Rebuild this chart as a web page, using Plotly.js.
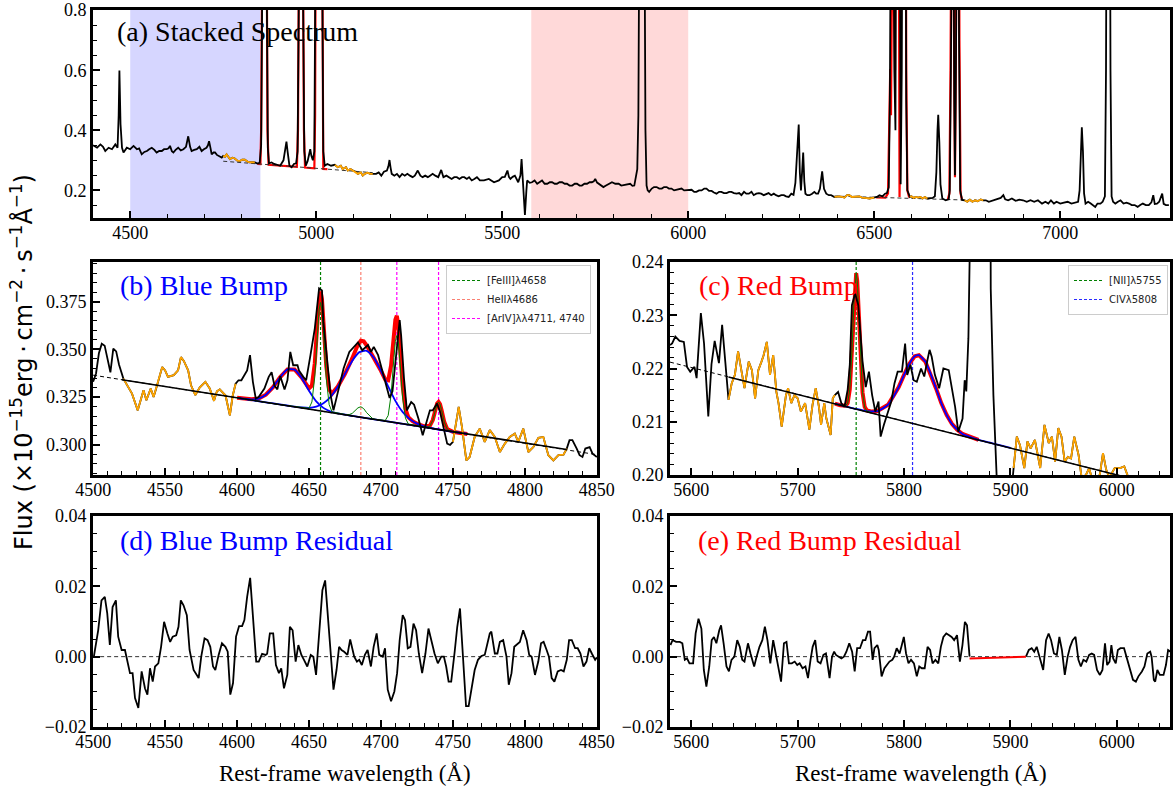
<!DOCTYPE html>
<html>
<head>
<meta charset="utf-8">
<script src="https://cdn.plot.ly/plotly-3.0.1.min.js"></script>
<style>
  html, body { margin: 0; padding: 0; background: #fff; }
  #chart { width: 1173px; height: 789px; }
</style>
</head>
<body>
<div id="chart"></div>
<script>
// ---------------- (a) stacked spectrum: [wavelength (Å), flux] ----------------
const specA = [
  [4400,0.350],[4411,0.342],[4420,0.353],[4427,0.345],[4433,0.331],[4442,0.342],[4451,0.337],[4460,0.353],[4466,0.342],[4469,0.45],[4471,0.599],[4474,0.42],[4478,0.342],[4482,0.326],[4491,0.342],[4500,0.337],[4509,0.348],[4518,0.337],[4524,0.340],[4531,0.320],[4538,0.328],[4545,0.331],[4551,0.337],[4558,0.342],[4565,0.335],[4571,0.326],[4578,0.331],[4585,0.331],[4591,0.337],[4598,0.337],[4603,0.340],[4607,0.348],[4612,0.330],[4616,0.326],[4622,0.335],[4629,0.342],[4636,0.333],[4643,0.337],[4650,0.345],[4656,0.380],[4661,0.345],[4665,0.331],[4672,0.335],[4679,0.337],[4686,0.345],[4692,0.331],[4698,0.337],[4705,0.342],[4709,0.350],[4712,0.364],[4716,0.340],[4719,0.320],[4724,0.326],[4728,0.326],[4733,0.318],[4737,0.315],[4742,0.312],[4746,0.309],
  [4750,0.315],[4755,0.312],[4759,0.320],[4764,0.311],[4768,0.304],[4775,0.309],[4781,0.306],[4788,0.299],[4795,0.298],[4801,0.302],[4808,0.302],[4815,0.296],[4821,0.293],[4828,0.294],[4835,0.293],
  [4842,0.289],[4848,0.292],[4852,0.35],[4855,0.9],[4858,2.5],[4861,4.0],[4864,2.5],[4867,0.9],[4870,0.34],[4873,0.290],[4880,0.293],[4887,0.288],[4895,0.286],[4903,0.282],[4912,0.300],[4917,0.345],[4920,0.362],[4923,0.330],[4928,0.282],[4934,0.277],[4940,0.288],[4946,0.290],[4950,0.33],[4953,0.8],[4956,2.5],[4959,5.0],[4962,2.5],[4965,0.8],[4968,0.33],[4972,0.282],[4977,0.298],[4981,0.320],[4984,0.337],[4987,0.315],[4991,0.300],[4995,0.33],[4998,1.0],[5001,4.0],[5004,10],[5007,14],[5010,10],[5013,4.0],[5016,1.0],[5019,0.33],[5023,0.282],[5030,0.288],[5040,0.282],
  [5050,0.285],[5058,0.277],[5066,0.282],[5071,0.271],[5080,0.277],[5085,0.266],[5092,0.271],[5099,0.266],[5106,0.262],[5112,0.255],[5120,0.260],[5125,0.249],[5130,0.255],[5138,0.259],[5145,0.255],[5152,0.255],
  [5161,0.255],[5168,0.260],[5175,0.249],[5182,0.262],[5190,0.266],[5194,0.280],[5197,0.301],[5200,0.275],[5203,0.255],[5210,0.249],[5217,0.255],[5224,0.244],[5231,0.255],[5238,0.249],[5245,0.255],[5252,0.249],[5259,0.244],[5265,0.249],[5273,0.266],[5280,0.249],[5286,0.244],[5293,0.249],[5300,0.244],[5306,0.249],[5313,0.255],[5320,0.249],[5328,0.244],[5336,0.268],[5342,0.244],[5350,0.249],[5357,0.244],[5364,0.238],[5371,0.244],[5378,0.244],[5385,0.238],[5392,0.244],[5398,0.244],[5405,0.238],[5411,0.244],[5418,0.233],[5425,0.238],[5432,0.244],[5440,0.233],[5451,0.233],[5464,0.238],[5478,0.227],[5491,0.233],[5500,0.244],[5507,0.245],[5514,0.266],[5518,0.245],[5522,0.238],[5528,0.245],[5534,0.249],[5543,0.227],[5549,0.250],[5552,0.304],[5556,0.233],[5561,0.118],[5565,0.200],[5567,0.233],[5574,0.225],[5580,0.227],[5587,0.233],[5594,0.222],[5600,0.227],[5607,0.233],[5614,0.222],[5621,0.222],[5628,0.227],[5634,0.227],[5641,0.222],[5647,0.222],[5654,0.227],[5661,0.227],[5668,0.222],[5674,0.222],[5681,0.216],[5688,0.216],[5695,0.222],[5701,0.222],[5708,0.216],[5714,0.216],[5721,0.222],[5728,0.222],[5735,0.227],[5741,0.227],[5746,0.230],[5750,0.238],[5755,0.226],[5759,0.222],[5765,0.215],[5772,0.211],[5779,0.216],[5786,0.222],[5795,0.227],[5804,0.222],[5813,0.222],[5820,0.216],[5830,0.219],[5837,0.222],[5844,0.222],[5850,0.215],[5855,0.216],[5860,0.250],[5863,0.271],[5866,0.45],[5869,1.2],[5873,3.0],[5876,3.5],[5879,3.0],[5882,1.2],[5885,0.40],[5888,0.216],[5891,0.200],[5895,0.195],[5902,0.206],[5908,0.211],[5915,0.211],[5922,0.206],[5929,0.206],[5935,0.211],[5942,0.211],[5948,0.206],[5955,0.206],[5962,0.200],[5969,0.202],[5975,0.206],[5982,0.206],[5989,0.200],[5996,0.200],[6003,0.202],[6009,0.202],[6016,0.195],[6022,0.195],[6029,0.200],[6036,0.200],[6043,0.206],[6049,0.206],[6056,0.198],[6063,0.198],[6069,0.193],[6076,0.189],[6083,0.195],[6089,0.195],[6096,0.191],[6103,0.191],[6110,0.195],[6116,0.195],[6123,0.191],[6130,0.189],[6137,0.191],[6143,0.184],[6150,0.195],[6156,0.189],[6163,0.189],[6170,0.195],[6176,0.184],[6183,0.189],[6190,0.191],[6196,0.189],[6203,0.184],[6210,0.189],[6216,0.191],[6223,0.184],[6230,0.189],[6236,0.184],[6243,0.180],[6250,0.184],[6257,0.184],[6263,0.180],[6270,0.178],[6277,0.189],[6283,0.185],[6288,0.225],[6292,0.330],[6297,0.419],[6300,0.260],[6303,0.200],[6306,0.260],[6309,0.326],[6312,0.230],[6315,0.189],[6320,0.184],[6326,0.184],[6333,0.189],[6339,0.195],[6344,0.189],[6349,0.189],[6354,0.205],[6360,0.263],[6365,0.205],[6371,0.189],[6378,0.184],[6384,0.184],
  [6393,0.178],[6400,0.180],[6406,0.180],[6413,0.178],[6420,0.176],[6427,0.184],[6433,0.184],[6440,0.178],[6447,0.178],[6453,0.180],[6460,0.180],[6467,0.176],[6473,0.176],[6480,0.174],[6487,0.173],[6494,0.175],[6500,0.176],
  [6507,0.178],[6514,0.184],[6522,0.180],[6529,0.189],[6534,0.191],[6539,0.21],[6542,0.5],[6546,1.5],[6550,1.8],[6554,0.6],[6557,0.4],[6560,1.5],[6563,3.5],[6566,2.0],[6569,0.3],[6571,0.22],[6574,0.6],[6577,2.0],[6580,3.0],[6583,2.0],[6586,0.5],[6589,0.2],
  [6596,0.178],[6600,0.180],[6606,0.175],[6612,0.178],[6618,0.176],[6624,0.178],[6630,0.173],[6636,0.178],[6643,0.173],
  [6650,0.173],[6657,0.175],[6663,0.180],[6667,0.26],[6670,0.40],[6672,0.452],[6675,0.36],[6678,0.22],[6683,0.173],[6692,0.167],[6700,0.170],[6703,0.20],[6706,0.6],[6709,1.6],[6712,1.6],[6715,0.5],[6717,0.25],[6719,0.5],[6722,1.5],[6725,1.7],[6728,0.7],[6731,0.2],[6736,0.168],
  [6743,0.167],[6750,0.162],[6757,0.169],[6764,0.162],[6771,0.167],[6778,0.164],[6786,0.170],[6793,0.167],
  [6800,0.167],[6808,0.162],[6820,0.167],[6830,0.169],[6840,0.175],[6847,0.184],[6852,0.170],[6860,0.167],[6870,0.173],[6880,0.165],[6890,0.169],[6900,0.167],[6910,0.162],[6920,0.167],[6930,0.162],[6940,0.167],[6951,0.156],[6960,0.162],[6968,0.156],[6975,0.167],[6983,0.156],[6990,0.162],[7000,0.156],[7010,0.159],[7020,0.162],[7030,0.156],[7040,0.159],[7048,0.162],[7052,0.20],[7056,0.38],[7058,0.41],[7061,0.33],[7064,0.19],[7068,0.156],[7075,0.162],[7082,0.156],[7088,0.150],[7094,0.145],[7100,0.156],[7108,0.156],[7114,0.162],[7120,0.18],[7123,0.6],[7126,2.0],[7129,3.0],[7132,2.0],[7135,0.6],[7138,0.18],[7142,0.162],[7148,0.156],[7155,0.162],[7162,0.167],[7170,0.156],[7178,0.159],[7185,0.156],[7192,0.151],[7200,0.151],[7208,0.145],[7215,0.151],[7222,0.156],[7230,0.151],[7238,0.151],[7245,0.160],[7250,0.184],[7254,0.155],[7260,0.156],[7266,0.162],[7270,0.175],[7274,0.189],[7278,0.155],[7284,0.151],[7292,0.151]
];
// emission-line fits in (a)
const fitA_HbOIII = [[4842,0.2883],[4850,0.2875],[4852,0.40],[4855,1.0],[4858,2.6],[4861,4.2],[4864,2.6],[4867,1.0],[4869,0.40],[4872,0.2852],[4880,0.2847],[4940,0.2790],[4948,0.2782],[4951,0.40],[4953,0.85],[4956,2.6],[4959,5.2],[4962,2.6],[4965,0.85],[4967,0.40],[4970,0.2761],[4995,0.2737],[4997,0.45],[5000,1.6],[5003,6],[5007,14.5],[5011,6],[5014,1.6],[5017,0.45],[5019,0.2714],[5030,0.2704]];
const fitA_HaNII = [[6505,0.177],[6530,0.176],[6537,0.19],[6540,0.35],[6543,0.604],[6545,0.45],[6547,0.8],[6550,2.0],[6553,0.8],[6556,0.6],[6559,2.0],[6563,3.8],[6566,1.2],[6568,0.178],[6571,0.5],[6574,1.2],[6577,2.5],[6580,3.2],[6583,2.2],[6586,0.6],[6589,0.2],[6594,0.176]];
const fitA_SII = [[6698,0.170],[6702,0.19],[6705,0.6],[6708,1.6],[6711,2.0],[6714,0.8],[6717,0.244],[6720,0.8],[6723,1.8],[6726,1.8],[6729,0.7],[6732,0.19],[6736,0.168]];
const contA_blue = [[4750,0.297],[5152,0.259]];
const contA_red = [[6393,0.181],[6793,0.166]];
const windowsA = [[4749,4836],[5049,5153],[6392,6501],[6595,6644],[6742,6794]];
const spanBlueBump = [4500, 4850];
const spanRedBump = [5578, 6000];

// ---------------- (b) blue bump ----------------
const specB = [
  [4500,0.333],[4502,0.3374],[4504,0.348],[4506,0.353],[4508,0.352],[4510,0.345],[4512,0.338],[4514,0.3505],[4516,0.349],[4518,0.342],[4520,0.3365],[4521,0.3347],[4527,0.3268],[4531,0.318],[4535,0.3286],[4537,0.3233],[4540,0.3295],[4542,0.325],[4544,0.330],[4548,0.3408],[4550,0.339],[4552,0.3356],[4556,0.3365],[4559,0.339],[4561,0.346],[4563,0.344],[4566,0.339],[4568,0.3312],[4571,0.326],[4574,0.330],[4578,0.333],[4581,0.3295],[4584,0.323],[4586,0.328],[4588,0.329],[4592,0.3258],[4595,0.3154],[4597,0.3258],[4599,0.332],[4601,0.3338],[4603,0.3338],[4607,0.339],[4609,0.347],[4611,0.333],[4613,0.3242],[4615,0.325],[4619,0.3295],[4622,0.3356],[4624,0.338],[4626,0.331],[4628,0.329],[4630,0.336],[4633,0.329],[4635,0.3338],[4637,0.3487],[4639,0.3417],[4642,0.3417],[4643,0.339],[4646,0.3356],[4648,0.3338],[4651,0.347],[4654,0.361],[4657,0.3821],[4659,0.381],[4660,0.3645],[4663,0.340],[4665,0.326],[4667,0.318],[4671,0.3303],[4674,0.340],[4678,0.3487],[4681,0.3514],[4684,0.3537],[4687,0.3496],[4691,0.3523],[4693,0.3487],[4695,0.3514],[4698,0.347],[4700,0.341],[4703,0.3335],[4706,0.3245],[4708,0.328],[4710.5,0.347],[4713,0.3654],[4714,0.3575],[4716,0.3347],[4718,0.318],[4721,0.3224],[4723,0.321],[4726,0.3137],[4729,0.3049],[4732,0.312],[4734,0.318],[4736,0.318],[4739,0.3216],[4741,0.3172],[4744,0.3066],[4746,0.3005],[4748,0.2998],[4750,0.3014],[4754,0.3198],[4756.3,0.309],[4759.3,0.2917],[4761.6,0.2935],[4765.1,0.304],[4768.6,0.3084],[4772.1,0.3014],[4775.6,0.3076],[4779.1,0.304],[4782.6,0.2961],[4786.1,0.3005],[4789.5,0.304],[4793,0.3058],[4795.4,0.3014],[4798.9,0.3084],[4802.4,0.2961],[4805.9,0.2987],[4809.4,0.3035],[4812.8,0.304],[4816.3,0.2944],[4819.8,0.2917],[4823.3,0.2944],[4826.8,0.2947],[4829.1,0.2979],[4831,0.3023],[4833,0.3023],[4836,0.2979],[4838,0.2944],[4840,0.2935],[4842,0.2979],[4845,0.2987],[4847,0.2952],[4850,0.2935]
];
const windowsB = [[4520.5,4600],[4749,4830]];
const contB = [[4500,0.3365],[4850,0.2947]];
const contB_fit = [[4520,0.3341],[4829,0.2974]];
const fitB_total = [[4600,0.3246],[4605,0.3241],[4610,0.3238],[4615,0.3242],[4620,0.3262],[4625,0.3302],[4630,0.3355],[4635,0.3395],[4640,0.3395],[4645,0.3352],[4650,0.3295],[4652,0.3310],[4654,0.3428],[4656,0.3665],[4657,0.3767],[4658,0.3805],[4659,0.3764],[4660,0.3659],[4662,0.3412],[4664,0.3289],[4666,0.3268],[4670,0.3305],[4675,0.3372],[4680,0.3453],[4684,0.3526],[4686,0.3546],[4688,0.3543],[4690,0.3522],[4695,0.3459],[4700,0.3388],[4703,0.3342],[4705,0.3338],[4707,0.3415],[4709,0.3586],[4710,0.3657],[4711,0.3677],[4712,0.3632],[4713,0.3536],[4715,0.3313],[4717,0.3187],[4719,0.3144],[4722,0.3123],[4725,0.3110],[4730,0.3096],[4734,0.3099],[4736,0.3129],[4738,0.3190],[4739,0.3216],[4740,0.3224],[4741,0.3213],[4742,0.3185],[4744,0.3118],[4746,0.3082],[4750,0.3067],[4755,0.3061],[4760,0.3056]];
const fitB_broad1 = [[4600,0.3246],[4605,0.3241],[4610,0.3238],[4615,0.3242],[4620,0.3262],[4625,0.3302],[4630,0.3355],[4635,0.3395],[4640,0.3394],[4645,0.3349],[4650,0.3283],[4655,0.3227],[4660,0.3193],[4665,0.3174],[4670,0.3164],[4680,0.3151],[4700,0.3127],[4760,0.3056]];
const fitB_broad2 = [[4600,0.3246],[4620,0.3222],[4640,0.3199],[4645,0.3195],[4650,0.3193],[4655,0.3199],[4660,0.3217],[4665,0.3251],[4670,0.3304],[4675,0.3372],[4680,0.3440],[4685,0.3486],[4690,0.3493],[4695,0.3457],[4700,0.3388],[4705,0.3306],[4710,0.3230],[4715,0.3172],[4720,0.3134],[4725,0.3110],[4730,0.3096],[4735,0.3087],[4740,0.3079],[4750,0.3067],[4760,0.3056]];
const fitB_narrow = [[4600,0.3246],[4630,0.3210],[4650,0.3191],[4652,0.3224],[4654,0.3356],[4656,0.3603],[4657,0.3708],[4658,0.3747],[4659,0.3706],[4660,0.3599],[4662,0.3346],[4664,0.3210],[4666,0.3172],[4676,0.3157],[4678,0.3158],[4680,0.3164],[4682,0.3178],[4684,0.3193],[4686,0.3199],[4688,0.3189],[4690,0.3168],[4692,0.3150],[4694,0.3138],[4696,0.3133],[4703,0.3127],[4705,0.3153],[4707,0.3260],[4709,0.3458],[4710,0.3542],[4711,0.3574],[4712,0.3540],[4713,0.3454],[4715,0.3250],[4717,0.3139],[4719,0.3108],[4732,0.3090],[4734,0.3097],[4736,0.3128],[4738,0.3190],[4739,0.3216],[4740,0.3224],[4741,0.3213],[4742,0.3185],[4744,0.3118],[4746,0.3082],[4748,0.3071],[4760,0.3056]];
const linesB_wl = [4658, 4686, 4711, 4740];
const linesB_name = ['[FeIII]λ4658', 'HeIIλ4686', '[ArIV]λλ4711, 4740', '[ArIV]λ4740'];

// ---------------- (c) red bump ----------------
const specC = [
  [5580,0.2244],[5582,0.2247],[5585,0.226],[5589,0.2252],[5593,0.225],[5596,0.2203],[5599,0.2194],[5603,0.2203],[5605,0.2182],[5609,0.2304],[5612,0.2247],[5616,0.211],[5619,0.2208],[5622,0.2252],[5626,0.221],[5629,0.2282],[5632,0.2212],[5635,0.2141],[5638,0.2172],[5641,0.2188],[5644,0.2232],[5647,0.2197],[5650,0.2163],[5654,0.2213],[5657,0.2197],[5660,0.2144],[5663,0.2197],[5666,0.2213],[5668,0.2225],[5671,0.225],[5674,0.2188],[5677,0.2225],[5680,0.2156],[5682,0.2135],[5685,0.2091],[5689,0.215],[5691,0.2163],[5694,0.2135],[5697,0.215],[5700,0.2144],[5703,0.2119],[5707,0.2135],[5709,0.2106],[5711,0.2085],[5714,0.2132],[5717,0.2163],[5720,0.2128],[5722,0.2094],[5725,0.2135],[5727,0.2106],[5731,0.2075],[5733,0.2144],[5735,0.215],[5738,0.2156],[5741,0.2135],[5744,0.2128],[5747,0.216],[5749,0.2207],[5751,0.2319],[5754,0.2341],[5757,0.2319],[5759,0.226],[5761,0.2213],[5764,0.2165],[5767,0.2194],[5770,0.215],[5773,0.2119],[5776,0.2138],[5778,0.2072],[5781,0.2094],[5784,0.2113],[5788,0.2138],[5791,0.2172],[5794,0.2194],[5798,0.2194],[5801,0.2247],[5803,0.2188],[5806,0.2207],[5809,0.2178],[5812,0.2175],[5816,0.22],[5819,0.2185],[5822,0.2216],[5824,0.2235],[5826,0.2222],[5829,0.2188],[5833,0.2163],[5837,0.22],[5842,0.2197],[5845,0.2166],[5848,0.2128],[5851,0.2081],[5855,0.2106],[5857,0.2178],[5858.5,0.2157],[5859.5,0.2207],[5860.5,0.2257],[5862,0.245],[5866,0.45],[5870,0.8],[5874,1.0],[5877,0.9],[5880,0.35],[5881.5,0.235],[5884,0.215],[5887,0.2],[5890,0.192],[5895,0.19],[5900,0.195],[5903,0.2013],[5906,0.2072],[5909,0.2056],[5913,0.2013],[5916,0.2063],[5919,0.205],[5923,0.2066],[5926,0.2031],[5928,0.2013],[5932,0.2094],[5936,0.206],[5939,0.2072],[5942,0.2025],[5945,0.2088],[5948,0.2072],[5951,0.2025],[5954,0.2034],[5957,0.2031],[5960,0.2072],[5964,0.2038],[5967,0.1994],[5971,0.2],[5974,0.2013],[5977,0.199],[5984,0.2],[5987,0.2041],[5990,0.201],[5993,0.1995],[5998,0.2013],[6003,0.2013],[6007,0.2016],[6010,0.2],[6015,0.197],[6030,0.196],[6050,0.195]
];
const windowsC = [[5634.5,5735.5],[5902,6011]];
const contC = [[5580,0.2212],[6050,0.1975]];
const contC_fit = [[5635,0.2184],[6010,0.1995]];
const fitC_total = [[5735,0.2134],[5740,0.2131],[5745,0.2130],[5747,0.2135],[5749,0.2161],[5751,0.2231],[5753,0.2329],[5754,0.2366],[5755,0.2379],[5756,0.2365],[5757,0.2327],[5759,0.2227],[5761,0.2155],[5763,0.2128],[5765,0.2121],[5770,0.2119],[5775,0.2120],[5785,0.2132],[5795,0.2165],[5800,0.2188],[5805,0.2209],[5810,0.2223],[5814,0.2225],[5820,0.2213],[5825,0.2190],[5830,0.2163],[5835,0.2135],[5840,0.2113],[5845,0.2096],[5850,0.2085],[5855,0.2077],[5860,0.2073],[5870,0.2066]];
const fitC_broad = [[5735,0.2134],[5745,0.2129],[5755,0.2124],[5765,0.2120],[5775,0.2120],[5785,0.2132],[5795,0.2165],[5800,0.2188],[5805,0.2209],[5810,0.2223],[5814,0.2225],[5820,0.2213],[5825,0.2190],[5830,0.2163],[5835,0.2135],[5840,0.2113],[5845,0.2096],[5850,0.2085],[5855,0.2077],[5860,0.2073],[5870,0.2066],[5880,0.2061],[5890,0.2056],[5900,0.2051]];
const fitC_narrow = [[5735,0.2134],[5740,0.2131],[5745,0.2130],[5747,0.2135],[5749,0.2161],[5751,0.2231],[5753,0.2329],[5754,0.2366],[5755,0.2379],[5756,0.2365],[5757,0.2327],[5759,0.2227],[5761,0.2155],[5763,0.2127],[5765,0.2120],[5770,0.2117]];
const linesC_wl = [5755, 5808];
const linesC_name = ['[NII]λ5755', 'CIVλ5808'];

// ---------------- (d) blue bump residual ----------------
const resD = [
  [4500.5,0],[4503.5,0.0075],[4505.8,0.016],[4508.1,0.017],[4509.8,0.0123],[4511.6,0.0033],[4513.5,0.0141],[4515.8,0.016],[4517.4,0.0057],[4519.8,0.0019],[4522.1,0.0019],[4523.7,-0.0009],[4525.6,-0.0047],[4527.4,-0.0047],[4529.1,-0.0118],[4531.4,-0.0146],[4533.7,-0.0042],[4536,-0.009],[4537.7,-0.0108],[4539.5,-0.0033],[4541.4,-0.0071],[4543,-0.0028],[4545.3,-0.0019],[4547.2,0.0028],[4549.3,0.0099],[4551.6,0.0066],[4553.5,0.0042],[4555.3,0.0057],[4557.7,0.0061],[4559.3,0.0085],[4560.9,0.016],[4562.8,0.0146],[4565.1,0.0118],[4567,0.0019],[4569.8,-0.0038],[4573.3,-0.0061],[4575.1,0],[4577.4,0.0052],[4579.5,0.0047],[4581.4,0.0028],[4583.3,-0.0028],[4584.9,-0.0038],[4587.2,0.0005],[4589.5,0.0038],[4591.9,0.0028],[4593.5,0.0014],[4595.3,-0.0108],[4597.2,-0.0075],[4599.3,0.0057],[4601.4,0.0087],[4603.5,0.0087],[4605.1,0.0104],[4607,0.017],[4609.1,0.0224],[4611.2,0.0104],[4613.3,-0.0014],[4615.1,-0.0014],[4617.4,0.0008],[4619.8,0.0005],[4620.9,0.0008],[4622.8,0.0066],[4625.1,0.0066],[4627,-0.0024],[4629.1,-0.0047],[4630.7,-0.0033],[4632.6,-0.009],[4634.9,-0.0052],[4636.7,0.0085],[4638.6,0.0075],[4640.7,-0.0014],[4642.6,0.0033],[4644.7,0.0005],[4646.5,-0.0009],[4648.8,-0.0028],[4651.2,0.0005],[4653,0],[4654.9,-0.0052],[4657,0.0061],[4659.3,0.0189],[4661.2,0.0217],[4662.8,0.0137],[4664.7,0.0038],[4667,-0.0094],[4669.1,-0.0038],[4670.9,0.0028],[4672.6,0.0019],[4674.4,0.0014],[4676.7,0.0005],[4678.6,0.0049],[4681.4,0],[4683.3,-0.0014],[4684.9,-0.0009],[4686.7,-0.0024],[4688.8,0.0005],[4690.7,0.0019],[4693,-0.0028],[4694.9,0.0028],[4697,0.0066],[4698.8,0.0005],[4701.2,0],[4702.8,0.0024],[4704.7,-0.0094],[4707,-0.0127],[4709.3,-0.0099],[4711.2,-0.0047],[4713,0.0047],[4715.1,0.0118],[4716.7,0.0104],[4718.6,0.0024],[4720.5,0.0028],[4722.6,0.0094],[4724.4,0.0075],[4726.3,0.0009],[4728.6,-0.0047],[4730.9,0.0009],[4733,0.008],[4734.9,0.0047],[4737.2,0.0009],[4739.5,-0.0019],[4741.9,0],[4743.7,0],[4745.3,-0.0028],[4747,-0.0071],[4748.8,-0.0071],[4751.2,0.0014],[4753,0.0085],[4754.9,0.0137],[4757,0],[4759.1,-0.0141],[4760.9,-0.0141],[4763.3,-0.0075],[4765.1,-0.0038],[4767.4,-0.0009],[4769.8,0.0002],[4772.1,0.0005],[4774,0.0038],[4775.6,0.0066],[4776.7,0.0071],[4779.1,0.0009],[4780.9,0.0009],[4782.6,0.0042],[4784.9,0.0047],[4787.2,0],[4788.8,-0.008],[4790.7,-0.0047],[4792.6,0.0028],[4794.9,0.0038],[4796.5,0.0042],[4798.8,0.0075],[4801.2,0.0047],[4803,0.0005],[4804.7,0],[4807,-0.0052],[4809.3,-0.0014],[4811.2,0.0038],[4813,0.0042],[4815.1,0.0019],[4816.7,0],[4818.6,-0.0061],[4820.5,-0.0071],[4822.8,-0.0042],[4825.1,-0.0038],[4827,-0.0042],[4829.1,-0.0009],[4830.7,0.0047],[4832.6,0.0047],[4834.9,0.0024],[4836.7,0.0024],[4838.6,0.0009],[4840.7,-0.0028],[4842.8,-0.0014],[4844.7,0.0024],[4846.5,0.0009],[4848.8,-0.0009],[4850,-0.0002]
];

// ---------------- (e) red bump residual ----------------
const resE = [
  [5580.4,0.0033],[5582.4,0.0047],[5585.8,0.0042],[5589.2,0.0042],[5591.6,0.0038],[5593.9,-0.0009],[5596,-0.0005],[5598.3,-0.0019],[5601.7,-0.0019],[5604.1,0.0066],[5606.8,0.0108],[5609.5,0.008],[5611.8,-0.0038],[5614.2,-0.0085],[5616.9,-0.0028],[5619.2,0.0047],[5621.3,0.0056],[5623.6,0.0038],[5626.3,0.0075],[5628,0.0089],[5630.4,0.0038],[5633.1,-0.0028],[5635.4,-0.0042],[5637.8,-0.0009],[5640.5,0],[5643.2,0.0047],[5645.6,0.0028],[5647.9,-0.0009],[5650,-0.0014],[5653.3,0.0038],[5655.7,0.0009],[5659.1,-0.0028],[5661.4,0],[5664.1,0.0028],[5666.8,0.0047],[5669.2,0.0085],[5671.6,0.0047],[5674.3,-0.0019],[5677,0.0047],[5679.3,0.0009],[5681.7,-0.0028],[5684.4,-0.0071],[5687.1,0.0038],[5689.5,0.0042],[5691.8,-0.0019],[5694.5,-0.0019],[5697.2,-0.0014],[5699.6,-0.0024],[5701.9,-0.0019],[5704.6,-0.0033],[5707.3,-0.0028],[5709.7,-0.0061],[5712.1,-0.0009],[5714.1,0.0028],[5716.5,0.0047],[5718.8,-0.0014],[5721.5,-0.0019],[5724.2,0.0005],[5726.6,0.0009],[5730,-0.0061],[5732.3,0],[5734.3,0.0014],[5736,0.0005],[5738.4,0],[5741.1,-0.0005],[5743.5,0],[5745.8,0.0014],[5748.5,0.0038],[5751.2,0.0014],[5753.6,-0.0042],[5755.9,0.0024],[5758.6,0.0024],[5761.3,0.0047],[5763.7,0.0047],[5766.1,0.0071],[5768.1,0.0071],[5770.5,-0.0009],[5772.2,0.0024],[5774.9,0.0033],[5776.2,0.0019],[5778.9,-0.0056],[5781.6,-0.0033],[5784,-0.0024],[5786.3,-0.0014],[5789,-0.0009],[5790.7,0],[5793.1,0.0024],[5795.8,0.0009],[5797.5,0.0028],[5799.8,0.0056],[5801.9,0.0009],[5804.2,-0.0019],[5806.6,-0.0009],[5809.3,-0.0019],[5812,-0.0056],[5814.3,-0.0028],[5816.7,-0.0033],[5819.4,-0.0033],[5822.1,0.0028],[5824.5,0.0019],[5826.8,-0.0019],[5829.5,-0.0009],[5832.2,-0.0019],[5834.6,0.0028],[5837,0.0056],[5839.7,0.0066],[5842.4,0.0061],[5844.7,0.0056],[5847.1,0.0047],[5849.8,0.0061],[5852.5,-0.0014],[5854.9,0.0033],[5857.2,0.0099],[5859.2,0.0089],[5861.6,0],
  [null,null],
  [5914.6,0],[5917.3,0.0019],[5920,0.0024],[5922.4,0.0014],[5924.7,0.0028],[5927.4,0],[5930.8,-0.0038],[5933.5,0.0047],[5935.9,0.0066],[5938.2,0.0047],[5940.9,0.0009],[5943.6,0.0005],[5946,0.0056],[5948.4,0.0019],[5951.1,-0.0052],[5953.8,0],[5956.1,0.0028],[5958.5,0.0047],[5961.2,0.0056],[5963.9,-0.0009],[5966.2,-0.0028],[5968.6,-0.0009],[5971.3,-0.0014],[5974,0.0005],[5976.4,0.0009],[5978.7,0.0005],[5981.4,-0.0038],[5984.1,-0.0052],[5986.5,-0.0038],[5988.9,0.0038],[5990.9,-0.0024],[5993.2,-0.0014],[5994.9,0.0033],[5996.6,-0.0005],[5999,-0.0019],[6001,0.0019],[6003.4,0.0024],[6006.8,0.0024],[6009.1,0],[6011.8,-0.0028],[6015.2,-0.0066],[6017.9,-0.0071],[6020.3,-0.0056],[6023.6,-0.0042],[6026,-0.0028],[6028.7,0.0009],[6031.4,0.0014],[6032.7,0],[6034.8,-0.0066],[6036.1,-0.0071],[6038.1,-0.0038],[6040.5,-0.0052],[6043.9,-0.0052],[6046.2,-0.0024],[6048.2,0.0019],[6050.6,0.0014]
];
const resE_masked = [[5861.6,-0.0005],[5914.6,0]];
const zeroD = [[4500,0],[4850,0]];
const zeroE = [[5580,0],[6050,0]];

// ---------------- axis ranges ----------------
const rangeAx = [4400, 7295], rangeAy = [0.108, 0.8005];
const rangeBx = [4499.9, 4850.1], rangeBy = [0.284, 0.396];
const rangeCx = [5580, 6050], rangeCy = [0.19999, 0.24001];
const rangeRy = [-0.02001, 0.04001];

// ---------------- helpers ----------------
const xs = p => p.map(v => v[0]);
const ys = p => p.map(v => v[1]);
function pick(pairs, wins) {
  const out = [];
  wins.forEach((w, i) => {
    if (i) out.push([null, null]);
    pairs.forEach(p => { if (p[0] !== null && p[0] >= w[0] && p[0] <= w[1]) out.push(p); });
  });
  return out;
}
function tr(pairs, ax, color, width, extra) {
  return Object.assign({
    type: 'scatter', mode: 'lines', x: xs(pairs), y: ys(pairs),
    xaxis: 'x' + ax, yaxis: 'y' + ax,
    line: { color: color, width: width },
    showlegend: false, hoverinfo: 'skip'
  }, extra || {});
}
function vline(wl, yr, ax, color, name, legendId) {
  return {
    type: 'scatter', mode: 'lines', x: [wl, wl], y: yr,
    xaxis: 'x' + ax, yaxis: 'y' + ax,
    line: { color: color, width: 1.2, dash: '3px,2px' },
    name: name, showlegend: !!legendId, legend: legendId || 'legend', hoverinfo: 'skip'
  };
}

const ORANGE = '#FFA500';
const traces = [];

// (a)
traces.push(tr(fitA_HbOIII, '', 'red', 2.2));
traces.push(tr(fitA_HaNII, '', 'red', 2.2));
traces.push(tr(fitA_SII, '', 'red', 2.2));
traces.push(tr(contA_blue, '', '#333', 1, { line: { color: '#333', width: 1, dash: '4px,3px' } }));
traces.push(tr(contA_red, '', '#333', 1, { line: { color: '#333', width: 1, dash: '4px,3px' } }));
traces.push(tr(specA, '', 'black', 1.8));
traces.push(tr(pick(specA, windowsA), '', ORANGE, 1.8));

// (b)
const linesB_col = ['green', 'salmon', 'magenta', 'magenta'];
linesB_wl.forEach((wl, i) => traces.push(vline(wl, rangeBy, '2', linesB_col[i], linesB_name[i], i < 3 ? 'legend' : null)));
traces.push(tr(fitB_total, '2', 'red', 4));
traces.push(tr(fitB_broad1, '2', 'blue', 1.8, { line: { color: 'blue', width: 1.8, shape: 'spline', smoothing: 0.6 } }));
traces.push(tr(fitB_broad2, '2', 'blue', 1.8, { line: { color: 'blue', width: 1.8, shape: 'spline', smoothing: 0.6 } }));
traces.push(tr(fitB_narrow, '2', 'green', 1));
traces.push(tr(specB, '2', 'black', 1.8));
traces.push(tr(pick(specB, windowsB), '2', ORANGE, 1.8));
traces.push(tr(contB, '2', 'black', 1, { line: { color: 'black', width: 1, dash: '4px,3px' } }));
traces.push(tr(contB_fit, '2', 'black', 1.5));

// (c)
const linesC_col = ['green', '#2b2bff'];
linesC_wl.forEach((wl, i) => traces.push(vline(wl, rangeCy, '3', linesC_col[i], linesC_name[i], 'legend2')));
traces.push(tr(fitC_total, '3', 'red', 4));
traces.push(tr(fitC_broad, '3', 'blue', 1.8, { line: { color: 'blue', width: 1.8, shape: 'spline', smoothing: 0.6 } }));
traces.push(tr(fitC_narrow, '3', 'green', 1));
traces.push(tr(specC, '3', 'black', 1.8));
traces.push(tr(pick(specC, windowsC), '3', ORANGE, 1.8));
traces.push(tr(contC, '3', 'black', 1, { line: { color: 'black', width: 1, dash: '4px,3px' } }));
traces.push(tr(contC_fit, '3', 'black', 1.5));

// (d)
traces.push(tr(zeroD, '4', '#333', 1, { line: { color: '#333', width: 1, dash: '4px,3px' } }));
traces.push(tr(resD, '4', 'black', 1.8));

// (e)
traces.push(tr(zeroE, '5', '#333', 1, { line: { color: '#333', width: 1, dash: '4px,3px' } }));
traces.push(tr(resE, '5', 'black', 1.8));
traces.push(tr(resE_masked, '5', 'red', 2));

// ---------------- layout ----------------
const W = 1173, H = 789;
const PX = x => x / W, PY = y => 1 - y / H;
const SERIF = 'Liberation Serif, Times New Roman, serif';
const baseAx = {
  showline: true, linecolor: 'black', linewidth: 3, mirror: true,
  ticks: 'inside', ticklen: 7, tickwidth: 1.5, tickcolor: 'black',
  showgrid: false, zeroline: false, ticklabeloverflow: 'allow',
  tickfont: { family: SERIF, size: 18, color: 'black' }
};
function ax(o, minorDtick, minorTick0) {
  return Object.assign({}, baseAx, o, {
    minor: { ticks: 'inside', ticklen: 4, tickwidth: 1, tickcolor: 'black', dtick: minorDtick, tick0: minorTick0, showgrid: false }
  });
}
const dxL = [PX(93), PX(597)], dxR = [PX(670), PX(1170)], dxA = [PX(93), PX(1170)];
const dyA = [PY(218), PY(10)], dyM = [PY(475), PY(262)], dyB = [PY(727), PY(516)];
const XS = -4; // pull x tick labels a little closer to the frame

function label(text, x, y, color, extra) {
  return Object.assign({
    text: text, x: x, y: y, xref: 'paper', yref: 'paper', xanchor: 'left', yanchor: 'middle',
    showarrow: false, font: { family: SERIF, size: 28, color: color }
  }, extra || {});
}

const layout = {
  width: W, height: H,
  margin: { l: 0, r: 0, t: 0, b: 0 },
  paper_bgcolor: 'white', plot_bgcolor: 'white',
  xaxis:  ax({ domain: dxA, range: rangeAx, anchor: 'y',  tick0: 4500, dtick: 500, tickformat: 'd', ticklabelstandoff: XS }, 100, 4500),
  yaxis:  ax({ domain: dyA, range: rangeAy, anchor: 'x',  tick0: 0, dtick: 0.2, tickformat: '.1f' }, 0.05, 0),
  xaxis2: ax({ domain: dxL, range: rangeBx, anchor: 'y2', tick0: 4500, dtick: 50, tickformat: 'd', ticklabelstandoff: XS }, 10, 4500),
  yaxis2: ax({ domain: dyM, range: rangeBy, anchor: 'x2', tick0: 0.3, dtick: 0.025, tickformat: '.3f' }, 0.005, 0.3),
  xaxis3: ax({ domain: dxR, range: rangeCx, anchor: 'y3', tick0: 5600, dtick: 100, tickformat: 'd', ticklabelstandoff: XS }, 20, 5600),
  yaxis3: ax({ domain: dyM, range: rangeCy, anchor: 'x3', tick0: 0.2, dtick: 0.01, tickformat: '.2f' }, 0.002, 0.2),
  xaxis4: ax({ domain: dxL, range: rangeBx, anchor: 'y4', tick0: 4500, dtick: 50, tickformat: 'd', ticklabelstandoff: XS }, 10, 4500),
  yaxis4: ax({ domain: dyB, range: rangeRy, anchor: 'x4', tick0: 0, dtick: 0.02, tickformat: '.2f' }, 0.005, 0),
  xaxis5: ax({ domain: dxR, range: rangeCx, anchor: 'y5', tick0: 5600, dtick: 100, tickformat: 'd', ticklabelstandoff: XS }, 20, 5600),
  yaxis5: ax({ domain: dyB, range: rangeRy, anchor: 'x5', tick0: 0, dtick: 0.02, tickformat: '.2f' }, 0.005, 0),
  shapes: [
    { type: 'rect', xref: 'x', yref: 'y domain', x0: spanBlueBump[0], x1: spanBlueBump[1], y0: 0, y1: 1,
      fillcolor: 'rgba(0,0,255,0.16)', line: { width: 0 }, layer: 'below' },
    { type: 'rect', xref: 'x', yref: 'y domain', x0: spanRedBump[0], x1: spanRedBump[1], y0: 0, y1: 1,
      fillcolor: 'rgba(255,0,0,0.15)', line: { width: 0 }, layer: 'below' }
  ],
  legend: {
    x: PX(591), xanchor: 'right', y: PY(265), yanchor: 'top',
    bgcolor: 'rgba(255,255,255,0.85)', bordercolor: '#cccccc', borderwidth: 1,
    font: { family: 'DejaVu Sans', size: 10, color: '#222' }, tracegroupgap: 0, itemwidth: 30
  },
  legend2: {
    x: PX(1168), xanchor: 'right', y: PY(265), yanchor: 'top',
    bgcolor: 'rgba(255,255,255,0.85)', bordercolor: '#cccccc', borderwidth: 1,
    font: { family: 'DejaVu Sans', size: 10, color: '#222' }, tracegroupgap: 0, itemwidth: 30
  },
  annotations: [
    label('(a) Stacked Spectrum', PX(115), PY(32), 'black'),
    label('(b) Blue Bump', PX(118), PY(285), 'blue'),
    label('(c) Red Bump', PX(697), PY(285), 'red'),
    label('(d) Blue Bump Residual', PX(118), PY(540), 'blue'),
    label('(e) Red Bump Residual', PX(696), PY(540), 'red'),
    label('Flux (×10<sup>−15</sup>erg\u2009·\u2009cm<sup>−2</sup>\u2009·\u2009s<sup>−1</sup>Å<sup>−1</sup>)', PX(22), PY(362), 'black',
      { xanchor: 'center', textangle: -90, font: { family: 'DejaVu Sans', size: 24, color: 'black' } }),
    label('Rest-frame wavelength (Å)', PX(345), PY(773), 'black',
      { xanchor: 'center', font: { family: SERIF, size: 23, color: 'black' } }),
    label('Rest-frame wavelength (Å)', PX(921), PY(773), 'black',
      { xanchor: 'center', font: { family: SERIF, size: 23, color: 'black' } })
  ]
};

Plotly.newPlot('chart', traces, layout, { displayModeBar: false, responsive: false });
</script>
</body>
</html>
